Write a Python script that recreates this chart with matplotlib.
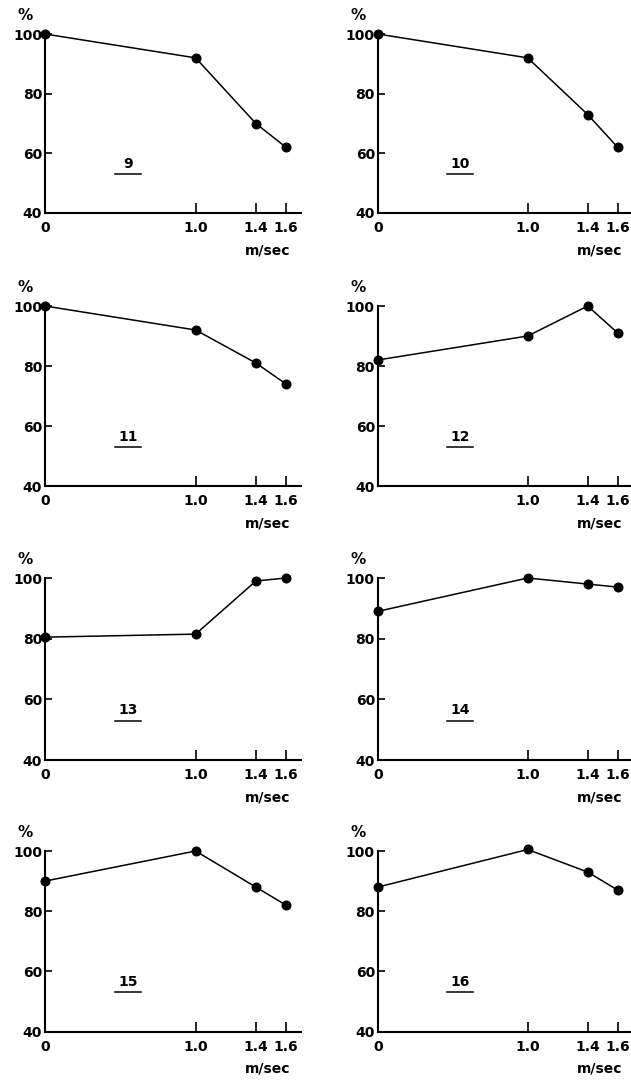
import matplotlib
matplotlib.use("Agg")
import matplotlib.pyplot as plt

# ---- data ----
speeds = [0.0, 1.0, 1.4, 1.6]
xtick_labels = ["0", "1.0", "1.4", "1.6"]
yticks = [40, 60, 80, 100]
panel_ids = ["9", "10", "11", "12", "13", "14", "15", "16"]
p9 = [100, 92, 70, 62]
p10 = [100, 92, 73, 62]
p11 = [100, 92, 81, 74]
p12 = [82, 90, 100, 91]
p13 = [80.5, 81.5, 99, 100]
p14 = [89, 100, 98, 97]
p15 = [90, 100, 88, 82]
p16 = [88, 100.5, 93, 87]
series = [p9, p10, p11, p12, p13, p14, p15, p16]
show_zero_label = [True, True, True, False, True, True, True, True]

W, H = 631, 1088
fig = plt.figure(figsize=(W / 100, H / 100), dpi=100)
fig.patch.set_facecolor("white")

# layout in pixels: (x of 0, x of 1.6) per column, (y of 100, y of 40) per row
cols = [(45, 286), (377.7, 617.7)]
rows = [(34, 213), (306, 486), (578, 760), (851, 1031.5)]
XMAX, YMIN, YMAX = 1.7, 40, 102

FS = 10
FW = "bold"

for i, (pid, vals) in enumerate(zip(panel_ids, series)):
    r, c = divmod(i, 2)
    x0, x16 = cols[c]
    y100, y40 = rows[r]
    sx = (x16 - x0) / 1.6
    sy = (y40 - y100) / 60.0
    left = x0
    right = x0 + XMAX * sx
    top = y100 - (YMAX - 100) * sy
    bottom = y40
    ax = fig.add_axes([left / W, 1 - bottom / H, (right - left) / W, (bottom - top) / H])
    ax.set_xlim(0, XMAX)
    ax.set_ylim(YMIN, YMAX)
    ax.plot(speeds, vals, color="black", lw=1.1, marker="o", ms=6.2,
            mfc="black", mec="black", clip_on=False, zorder=3)
    for s in ("top", "right"):
        ax.spines[s].set_visible(False)
    ax.spines["left"].set_bounds(40, 100)
    ax.spines["left"].set_linewidth(1.5)
    ax.spines["bottom"].set_linewidth(1.5)
    ax.set_yticks(yticks)
    ax.set_yticklabels([str(v) for v in yticks], fontsize=FS, fontweight=FW)
    ax.set_xticks(speeds)
    labs = list(xtick_labels)
    if not show_zero_label[i]:
        labs[0] = ""
    ax.set_xticklabels(labs, fontsize=FS, fontweight=FW)
    ax.tick_params(axis="y", direction="in", length=5, width=1.2, pad=2)
    ax.tick_params(axis="x", direction="in", length=7, width=1.2, pad=6)
    ax.set_facecolor("none")
    # percent sign
    ax.annotate("%", xy=(0, 100), xytext=(-14, 13), textcoords="offset points",
                ha="center", va="center", fontsize=FS + 1, fontweight=FW)
    # unit label
    ax.annotate("m/sec", xy=(1.48, 40), xytext=(0, -27), textcoords="offset points",
                ha="center", va="center", fontsize=FS, fontweight=FW)
    # underlined panel number
    ax.text(0.55, 56.5, pid, ha="center", va="center", fontsize=FS, fontweight=FW)
    ax.plot([0.55 - 0.085, 0.55 + 0.085], [53.0, 53.0], color="black", lw=1.1)

fig.savefig("out.png", dpi=100, facecolor="white")
